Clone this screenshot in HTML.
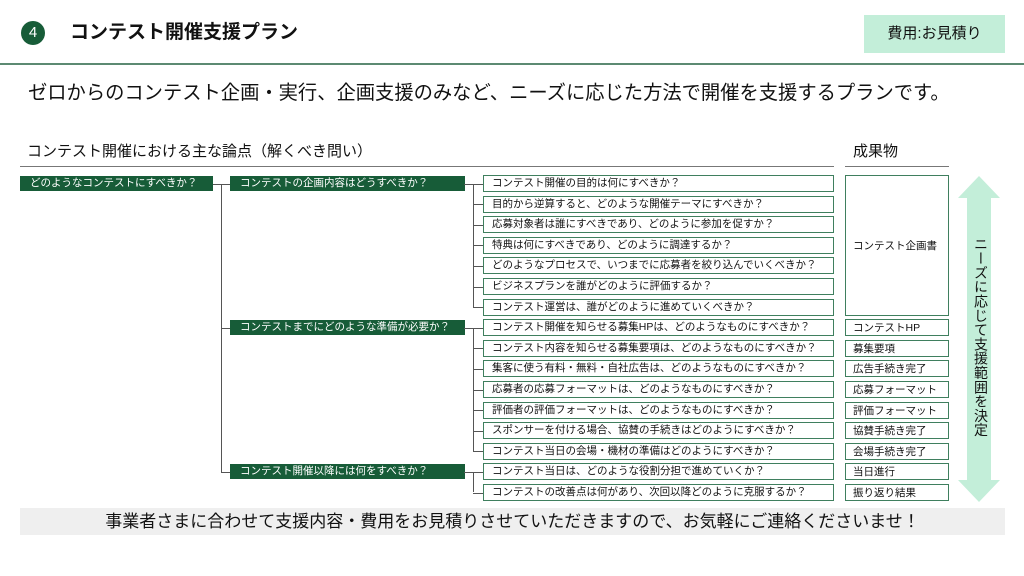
<!DOCTYPE html>
<html><head><meta charset="utf-8"><style>
body{margin:0;width:1024px;height:576px;background:#fff;position:relative;overflow:hidden;font-family:"Liberation Sans","Noto Sans CJK JP",sans-serif;color:#111}
.a{position:absolute;box-sizing:border-box}
.g{background:#175c38;color:#fff;font-size:10.5px;line-height:15px;padding-left:10px;white-space:nowrap}
.q{border:1px solid #3f7f5e;font-size:10.5px;line-height:15px;padding-left:8px;white-space:nowrap;background:#fff}
.o{border:1px solid #3f7f5e;font-size:10.5px;padding-left:7px;white-space:nowrap;background:#fff;display:flex;align-items:center}
.l{background:#555}
</style></head><body>
<div class="a" style="left:21px;top:21px;width:24px;height:24px;border-radius:50%;background:#175c38;color:#fff;font-size:15px;text-align:center;line-height:24px">4</div>
<div class="a" style="left:70px;top:20px;font-size:19px;font-weight:bold;line-height:26px">コンテスト開催支援プラン</div>
<div class="a" style="left:864px;top:15px;width:141px;height:38px;background:#c3eed9;font-size:15px;text-align:center;line-height:38px">費用:お見積り</div>
<div class="a" style="left:0;top:63px;width:1024px;height:2px;background:#5c8a72"></div>
<div class="a" style="left:28px;top:80px;font-size:19.3px;line-height:28px">ゼロからのコンテスト企画・実行、企画支援のみなど、ニーズに応じた方法で開催を支援するプランです。</div>
<div class="a" style="left:27px;top:142px;font-size:15px;line-height:20px">コンテスト開催における主な論点（解くべき問い）</div>
<div class="a" style="left:20px;top:166px;width:814px;height:1px;background:#777"></div>
<div class="a" style="left:853px;top:142px;font-size:15px;line-height:20px">成果物</div>
<div class="a" style="left:845px;top:166px;width:104px;height:1px;background:#777"></div>
<div id="c"></div>
<svg class="a" style="left:958px;top:174px" width="48" height="330"><polygon points="21,2 42,24 33,24 33,306 42,306 21,328 0,306 9,306 9,24 0,24" fill="#c3eed9"/></svg>
<div class="a" style="left:971px;top:237px;writing-mode:vertical-rl;font-size:14px;letter-spacing:0.3px">ニーズに応じて支援範囲を決定</div>
<div class="a" style="left:20px;top:508px;width:985px;height:27px;background:#efefef;font-size:17px;text-align:center;line-height:27px">事業者さまに合わせて支援内容・費用をお見積りさせていただきますので、お気軽にご連絡くださいませ！</div>
<script>
var qs=["コンテスト開催の目的は何にすべきか？","目的から逆算すると、どのような開催テーマにすべきか？","応募対象者は誰にすべきであり、どのように参加を促すか？","特典は何にすべきであり、どのように調達するか？","どのようなプロセスで、いつまでに応募者を絞り込んでいくべきか？","ビジネスプランを誰がどのように評価するか？","コンテスト運営は、誰がどのように進めていくべきか？","コンテスト開催を知らせる募集HPは、どのようなものにすべきか？","コンテスト内容を知らせる募集要項は、どのようなものにすべきか？","集客に使う有料・無料・自社広告は、どのようなものにすべきか？","応募者の応募フォーマットは、どのようなものにすべきか？","評価者の評価フォーマットは、どのようなものにすべきか？","スポンサーを付ける場合、協賛の手続きはどのようにすべきか？","コンテスト当日の会場・機材の準備はどのようにすべきか？","コンテスト当日は、どのような役割分担で進めていくか？","コンテストの改善点は何があり、次回以降どのように克服するか？"];
var os=["コンテストHP","募集要項","広告手続き完了","応募フォーマット","評価フォーマット","協賛手続き完了","会場手続き完了","当日進行","振り返り結果"];
var h="",P=20.6,T=175,H=17;
function y(i){return T+i*P}
function c(i){return y(i)+H/2}
qs.forEach(function(q,i){h+='<div class="a q" style="left:483px;top:'+y(i)+'px;width:351px;height:'+H+'px">'+q+'</div>';h+='<div class="a l" style="left:473px;top:'+c(i)+'px;width:10px;height:1px"></div>';});
h+='<div class="a o" style="left:845px;top:'+y(0)+'px;width:104px;height:'+(y(6)+H-y(0))+'px">コンテスト企画書</div>';
os.forEach(function(o,k){h+='<div class="a o" style="left:845px;top:'+y(k+7)+'px;width:104px;height:'+H+'px">'+o+'</div>';});
[[0,"コンテストの企画内容はどうすべきか？",0,6],[7,"コンテストまでにどのような準備が必要か？",7,13],[14,"コンテスト開催以降には何をすべきか？",14,15]].forEach(function(g){
h+='<div class="a g" style="left:230px;top:'+(y(g[0])+1)+'px;width:235px;height:15px">'+g[1]+'</div>';
h+='<div class="a l" style="left:464px;top:'+c(g[0])+'px;width:10px;height:1px"></div>';
h+='<div class="a l" style="left:473px;top:'+c(g[2])+'px;width:1px;height:'+(c(g[3])-c(g[2]))+'px"></div>';
h+='<div class="a l" style="left:221px;top:'+c(g[0])+'px;width:9px;height:1px"></div>';});
h+='<div class="a l" style="left:221px;top:'+c(0)+'px;width:1px;height:'+(c(14)-c(0))+'px"></div>';
h+='<div class="a l" style="left:212px;top:'+c(0)+'px;width:10px;height:1px"></div>';
h+='<div class="a g" style="left:20px;top:'+(y(0)+1)+'px;width:193px;height:15px">どのようなコンテストにすべきか？</div>';
document.getElementById("c").innerHTML=h;
</script>
</body></html>
